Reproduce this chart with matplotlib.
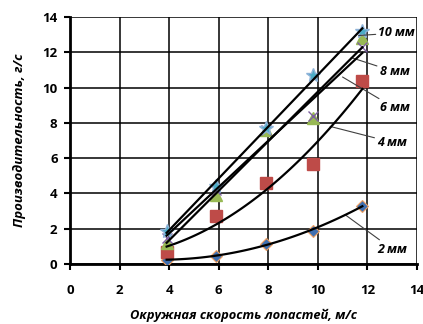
import numpy as np
import matplotlib
matplotlib.use("Agg")
import matplotlib.pyplot as plt

plt.rcParams["font.family"] = ["Open Sans", "DejaVu Sans"]
plt.rcParams["font.weight"] = "bold"

# blade tip speed, m/s
speed = [3.9, 5.9, 7.9, 9.8, 11.8]

# output, g/s, per gap size
out_2mm = [0.25, 0.45, 1.15, 1.9, 3.3]
out_4mm = [0.7, 2.7, 4.6, 5.65, 10.35]
out_6mm = [1.2, 3.9, 7.6, 8.3, 12.8]
out_8mm = [1.5, 4.2, 7.6, 8.4, 12.3]
out_10mm = [1.9, 4.4, 7.7, 10.7, 13.2]

x_ticks = [0, 2, 4, 6, 8, 10, 12, 14]
y_ticks = [0, 2, 4, 6, 8, 10, 12, 14]

fig = plt.figure(figsize=(4.23, 3.24), dpi=100)
ax = fig.add_axes([0.1655, 0.185, 0.82, 0.7625])

x = np.array(speed)
xs = np.linspace(x.min(), x.max(), 100)

series = [
    (out_2mm, dict(marker="D", mfc="#3f6fb0", mec="#f0a060", ms=6.5, mew=0.8), 2),
    (out_4mm, dict(marker="s", mfc="#be4b48", mec="#be4b48", ms=8), 2),
    (out_6mm, dict(marker="^", mfc="#98b954", mec="#98b954", ms=8), 1),
    (out_8mm, dict(marker="x", mfc="#7d60a0", mec="#7d60a0", ms=7, mew=1), 1),
    (out_10mm, dict(marker="*", mfc="#4bacc6", mec="#8fb3d9", ms=10), 1),
]

for vals, style, deg in series:
    ax.plot(x, vals, ls="none", zorder=3, **style)
    # trend line (quadratic for the small gaps, linear for the rest)
    coef = np.polyfit(x, vals, deg)
    ax.plot(xs, np.polyval(coef, xs), color="black", lw=1.6, zorder=4)

# labels with leader lines
notes = [
    ("10 мм", (11.65, 12.95), (12.45, 13.1)),
    ("8 мм", (11.35, 11.7), (12.5, 10.9)),
    ("6 мм", (11.0, 10.6), (12.5, 8.85)),
    ("4 мм", (10.5, 7.8), (12.4, 6.9)),
    ("2 мм", (11.1, 2.8), (12.4, 0.85)),
]
for txt, xy, xytext in notes:
    ax.annotate(txt, xy=xy, xytext=xytext, fontsize=9, fontweight="bold",
                fontstyle="italic", va="center", ha="left",
                arrowprops=dict(arrowstyle="-", color="#404040", lw=0.8,
                                shrinkA=0, shrinkB=0))

ax.set_xlim(0, 14)
ax.set_ylim(0, 14)
ax.set_xticks(x_ticks)
ax.set_yticks(y_ticks)
ax.grid(True, color="black", lw=1.1)
ax.set_axisbelow(True)
for side in ["top", "right"]:
    ax.spines[side].set_visible(False)
for side in ["left", "bottom"]:
    ax.spines[side].set_linewidth(2)
ax.tick_params(direction="out", length=4, width=1.5, labelsize=9.5, pad=10)
ax.tick_params(axis="y", pad=5)
for lbl in ax.get_xticklabels() + ax.get_yticklabels():
    lbl.set_fontweight("bold")

ax.set_xlabel("Окружная скорость лопастей, м/с", fontsize=9.3,
              fontweight="bold", fontstyle="italic", labelpad=9)
ax.set_ylabel("Производительность, г/с", fontsize=9.5,
              fontweight="bold", fontstyle="italic", labelpad=12)

fig.savefig("out.png", dpi=100)
